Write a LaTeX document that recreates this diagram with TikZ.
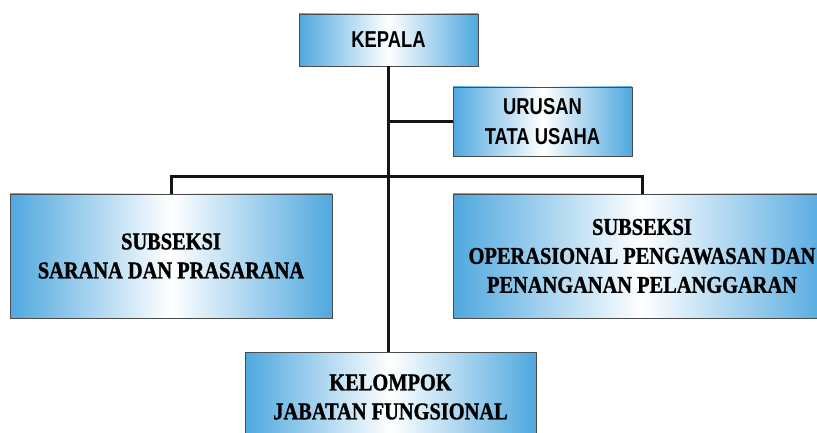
\documentclass[tikz,border=0pt]{standalone}
\usepackage{fontspec}
\setmainfont{Liberation Serif}
\newfontfamily\orgsans[FakeStretch=0.8]{Liberation Sans}
\newfontfamily\orgserif[FakeStretch=0.85, BoldFeatures={FakeBold=1.2}]{Liberation Serif}
\usetikzlibrary{positioning}
\definecolor{orgblue}{HTML}{4FA8DF}
\definecolor{orgline}{HTML}{141414}
\tikzset{
  % Unit boxes
  unitbox/.style={
    rectangle, draw=black!70, line width=0.8pt,
    left color=orgblue, right color=orgblue, middle color=white,
    align=center, text=black, inner sep=0pt,
  },
  headbox/.style={unitbox, font=\orgsans\bfseries\fontsize{23}{30}\selectfont},
  subbox/.style={unitbox, font=\orgserif\bfseries\fontsize{24}{29}\selectfont},
  % Connectors
  link/.style={draw=orgline, line width=3pt},
}
\begin{document}
\begin{tikzpicture}[x=1pt, y=-1pt]

  \clip (0,0) rectangle (817,433);

  % Head and office
  \node[headbox, minimum width=179, minimum height=52] (kepala) at (388.5,40) {KEPALA};
  \node[headbox, minimum width=179, minimum height=69] (urusan) at (542.5,121.5) {URUSAN\\TATA USAHA};

  % Subsections
  \node[subbox, minimum width=322, minimum height=124] (sarana) at (171,256)
    {SUBSEKSI\\SARANA DAN PRASARANA};
  \node[subbox, minimum width=378, minimum height=124] (operasional) at (642,256)
    {SUBSEKSI\\OPERASIONAL PENGAWASAN DAN\\PENANGANAN PELANGGARAN};

  % Functional group
  \node[subbox, minimum width=291, minimum height=90] (kelompok) at (390.5,397)
    {KELOMPOK\\JABATAN FUNGSIONAL};

  % Lines
  \coordinate (bar) at (388.5,177);
  \draw[link] (kepala.south) -- (kepala.south |- kelompok.north);
  \draw[link] (kepala.south |- urusan.west) -- (urusan.west);
  \draw[link] (sarana.north) |- (bar) -| (operasional.north);

\end{tikzpicture}
\end{document}
